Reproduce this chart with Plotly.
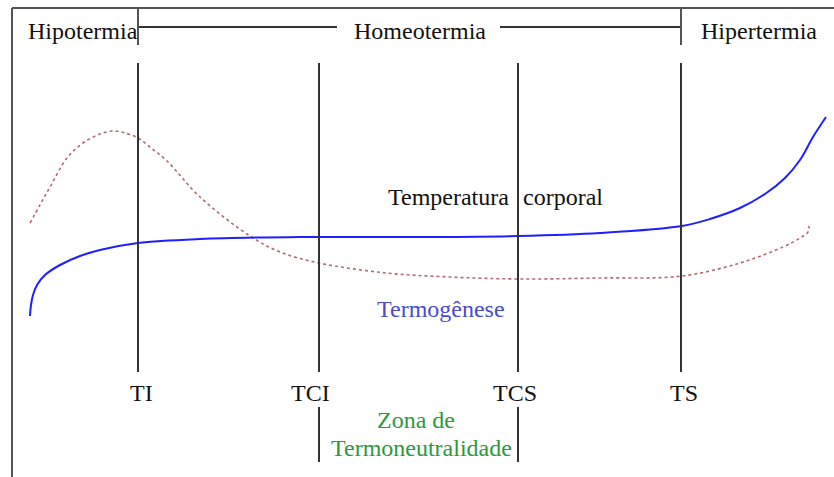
import plotly.graph_objects as go

# ---- data (diagram coordinates: x = position along temperature scale, y = vertical position, top = 0) ----
threshold_labels = ["TI", "TCI", "TCS", "TS"]
threshold_x = [138, 319, 518, 681]
label_x = [141, 310, 515, 684]

zone_labels = ["Hipotermia", "Homeotermia", "Hipertermia"]
zone_label_x = [83, 420, 759]

# body temperature curve (blue, solid)
temp_x = [30, 31, 33, 37, 45, 60, 80, 100, 138, 200, 300, 420, 518, 600, 682, 710, 740, 765, 785, 800, 813, 826]
temp_y = [316, 305, 295, 285, 275, 265, 256, 250, 243, 239, 237, 237, 236, 233, 226, 219, 208, 194, 178, 160, 137, 117]

# thermogenesis curve (brown, dotted)
termo_x = [30, 40, 50, 67, 83, 100, 113, 125, 138, 150, 167, 200, 250, 280, 319, 386, 450, 519, 599, 682, 740, 783, 800, 808, 809, 807]
termo_y = [223, 205, 187, 158, 143, 134, 131, 133, 138, 147, 161, 197, 236, 252, 263, 273, 277, 279, 278, 276, 263, 247, 238, 232, 227, 224]

FONT = "Liberation Serif, Times New Roman, Times, serif"
LINE = "#333333"
FS = 24

fig = go.Figure()
fig.add_trace(go.Scatter(x=termo_x, y=termo_y, mode="lines", line=dict(color="#b36a6a", width=1.6, dash="dot", shape="spline", smoothing=1.0), hoverinfo="skip"))
fig.add_trace(go.Scatter(x=temp_x, y=temp_y, mode="lines", line=dict(color="#1f1fff", width=2, shape="spline", smoothing=1.0), hoverinfo="skip"))

shapes = []
# frame (left + top)
shapes.append(dict(type="line", x0=12, x1=12, y0=8, y1=477, line=dict(color="#555555", width=2)))
shapes.append(dict(type="line", x0=12, x1=834, y0=8, y1=8, line=dict(color="#555555", width=2)))
# homeothermy bracket
ti, tci, tcs, ts = threshold_x
shapes.append(dict(type="line", x0=ti, x1=337, y0=27, y1=27, line=dict(color=LINE, width=2)))
shapes.append(dict(type="line", x0=500, x1=ts, y0=27, y1=27, line=dict(color=LINE, width=2)))
for xv in (ti, ts):
    shapes.append(dict(type="line", x0=xv, x1=xv, y0=8, y1=45, line=dict(color="#555555", width=2)))
# main threshold lines
for xv in threshold_x:
    shapes.append(dict(type="line", x0=xv, x1=xv, y0=63, y1=372, line=dict(color=LINE, width=2)))
# thermoneutral zone brackets
for xv in (tci, tcs):
    shapes.append(dict(type="line", x0=xv, x1=xv, y0=407, y1=462, line=dict(color=LINE, width=2)))

ann = []
for t, xv in zip(zone_labels, zone_label_x):
    ann.append(dict(x=xv, y=31, text=t, font=dict(family=FONT, size=FS, color="#111111")))
for t, xv in zip(threshold_labels, label_x):
    ann.append(dict(x=xv, y=393, text=t, font=dict(family=FONT, size=FS, color="#111111")))
ann.append(dict(x=448, y=197, text="Temperatura", font=dict(family=FONT, size=FS, color="#111111")))
ann.append(dict(x=563, y=197, text="corporal", font=dict(family=FONT, size=FS, color="#111111")))
ann.append(dict(x=441, y=309, text="Termogênese", font=dict(family=FONT, size=FS, color="#4a4ad0")))
ann.append(dict(x=416, y=420, text="Zona de", font=dict(family=FONT, size=FS, color="#2a9a3a")))
ann.append(dict(x=421, y=448, text="Termoneutralidade", font=dict(family=FONT, size=FS, color="#2a9a3a")))
for a in ann:
    a.update(xref="x", yref="y", showarrow=False, xanchor="center", yanchor="middle")

fig.update_layout(
    width=834, height=477,
    margin=dict(l=0, r=0, t=0, b=0),
    paper_bgcolor="white", plot_bgcolor="white",
    showlegend=False,
    xaxis=dict(range=[0, 834], visible=False, fixedrange=True),
    yaxis=dict(range=[477, 0], visible=False, fixedrange=True),
    shapes=shapes, annotations=ann,
)
fig.write_html("out.html", config={"displayModeBar": False})

# remove the default page margin so the figure fills the window exactly
with open("out.html", encoding="utf-8") as f:
    html = f.read()
html = html.replace("<body>", '<body style="margin:0;overflow:hidden">', 1)
with open("out.html", "w", encoding="utf-8") as f:
    f.write(html)
